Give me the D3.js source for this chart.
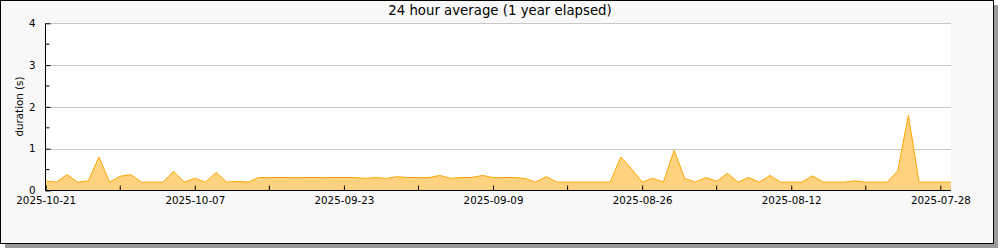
<!DOCTYPE html>
<html><head><meta charset="utf-8">
<script src="https://cdn.jsdelivr.net/npm/d3@7"></script>
<style>body{margin:0;background:#fff;}svg{display:block;font-family:"DejaVu Sans",sans-serif;}</style>
</head><body><svg id="c" width="1000" height="250"></svg>
<script>
const title = "24 hour average (1 year elapsed)";
const yLabel = "duration (s)";
const values = [0.23,0.2,0.38,0.2,0.23,0.8,0.2,0.34,0.38,0.2,
  0.2,0.2,0.46,0.2,0.29,0.2,0.43,0.2,0.22,0.2,
  0.31,0.31,0.31,0.31,0.31,0.31,0.31,0.31,0.31,0.31,
  0.29,0.31,0.29,0.33,0.31,0.31,0.31,0.36,0.29,0.31,
  0.31,0.36,0.31,0.31,0.31,0.29,0.2,0.33,0.2,0.2,
  0.2,0.2,0.2,0.2,0.8,0.52,0.2,0.29,0.2,0.96,
  0.29,0.2,0.31,0.22,0.41,0.2,0.31,0.2,0.36,0.2,
  0.2,0.2,0.35,0.2,0.2,0.2,0.23,0.2,0.2,0.2,
  0.47,1.8,0.2,0.2,0.2,0.2];
const xTickIdx = [0,14,28,42,56,70,84];
const xTickLabels = ["2025-10-21","2025-10-07","2025-09-23","2025-09-09","2025-08-26","2025-08-12","2025-07-28"];
const xMinorIdx = [7,21,35,49,63,77];
const yTicks = [0,1,2,3,4];
const yMinor = [0.5,1.5,2.5,3.5];

const svg = d3.select("#c");
// frame with shadow
svg.append("rect").attr("x",5).attr("y",5).attr("width",993).attr("height",243).attr("fill","#9a9a9a");
svg.append("rect").attr("x",0.5).attr("y",0.5).attr("width",993).attr("height",243).attr("fill","#f8f8f8").attr("stroke","#000");

const L=45.5, R=951, T=23.3, B=190.5;
const x = d3.scaleLinear().domain([0, values.length-1]).range([L+0.2, R]);
const y = d3.scaleLinear().domain([0,4]).range([B, T]);

svg.append("rect").attr("x",L).attr("y",T).attr("width",R-L).attr("height",B-T).attr("fill","#fff");

// grid
svg.append("g").selectAll("line").data(yTicks.slice(1)).join("line")
  .attr("x1",L).attr("x2",R).attr("y1",d=>Math.round(y(d))+0.5).attr("y2",d=>Math.round(y(d))+0.5)
  .attr("stroke","#c8c8c8").attr("stroke-width",1);

// area
const area = d3.area().x((d,i)=>x(i)).y0(y(0)).y1(d=>y(d));
const line = d3.line().x((d,i)=>x(i)).y(d=>y(d));
svg.append("path").datum(values).attr("d",area).attr("fill","#ffd27f");
svg.append("path").datum(values).attr("d",line).attr("fill","none").attr("stroke","#ffa500").attr("stroke-width",1);

// y axis
const yAxis = d3.axisLeft(y).tickValues(yTicks).tickSizeInner(-5).tickSizeOuter(0).tickPadding(10).tickFormat(d3.format("d"));
const gy = svg.append("g").attr("transform",`translate(${L},0)`).call(yAxis);
gy.selectAll(".tick text").attr("font-size","10.3px").attr("fill","#000").attr("font-family","DejaVu Sans");
gy.append("g").selectAll("line").data(yMinor).join("line")
  .attr("x1",0).attr("x2",4).attr("y1",d=>y(d)).attr("y2",d=>y(d)).attr("stroke","#000");
gy.select(".domain").attr("d",`M0.5,${T}V${B}`).attr("transform","translate(-0.5,0)");

// x axis
const xAxis = d3.axisBottom(x).tickValues(xTickIdx).tickSizeInner(-5).tickSizeOuter(0).tickPadding(6)
  .tickFormat((d,i)=>xTickLabels[i]);
const gx = svg.append("g").attr("transform",`translate(0,${B})`).call(xAxis);
gx.selectAll(".tick text").attr("font-size","10.3px").attr("fill","#000").attr("font-family","DejaVu Sans");
gx.append("g").selectAll("line").data(xMinorIdx).join("line")
  .attr("x1",d=>x(d)).attr("x2",d=>x(d)).attr("y1",0).attr("y2",-5).attr("stroke","#000");
gx.select(".domain").attr("d",`M${L},0H${R}`);

// labels
svg.append("text").attr("x",500).attr("y",15).attr("text-anchor","middle").attr("font-size","13.3px").text(title);
svg.append("text").attr("transform","translate(23,106.5) rotate(-90)").attr("text-anchor","middle").attr("font-size","10.3px").text(yLabel);
</script></body></html>
